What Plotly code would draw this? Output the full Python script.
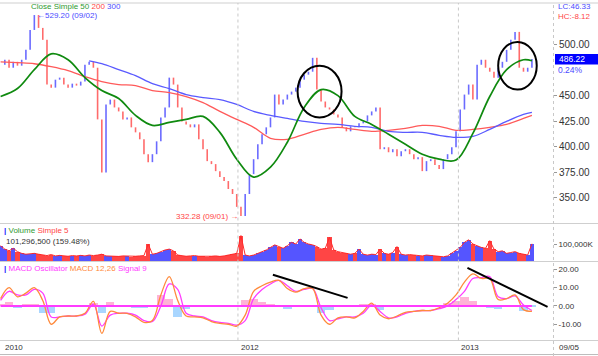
import plotly.graph_objects as go
import pandas as pd

W, H = 598, 356

# ---------------- data ----------------
dates = pd.date_range("2010-12-03", periods=127, freq="7D")

close = [480.5, 485.4, 477.6, 483.4, 479.6, 485.4, 495.1, 514.6, 529.2, 516.6,
         504.9, 461.1, 458.1, 465.9, 467.9, 461.1, 458.1, 462.0, 460.1, 464.0,
         480.5, 483.4, 477.6, 427.0, 375.0, 441.6, 446.4, 438.7, 434.8, 427.0,
         428.9, 419.2, 414.3, 407.5, 392.9, 385.1, 392.9, 405.5, 428.9, 438.7,
         467.9, 461.1, 438.7, 425.0, 422.1, 419.2, 422.1, 407.5, 397.8, 386.1,
         383.2, 376.3, 370.5, 366.6, 358.8, 353.9, 341.3, 332.3, 353.9, 373.4,
         388.0, 402.6, 412.4, 419.2, 428.9, 451.3, 441.6, 446.4, 451.3, 454.2,
         458.1, 465.9, 470.8, 473.7, 487.3, 456.2, 444.5, 438.7, 436.7, 431.8,
         428.9, 419.2, 415.3, 420.2, 419.2, 423.1, 425.0, 430.9, 434.8, 438.7,
         397.8, 399.7, 394.8, 397.8, 390.9, 395.8, 397.8, 392.9, 388.0, 390.0,
         376.3, 386.1, 388.0, 382.2, 378.3, 388.0, 392.9, 399.7, 415.3, 436.7,
         451.3, 461.1, 446.4, 480.5, 485.4, 477.6, 473.7, 467.9, 477.6, 483.4,
         495.1, 504.9, 512.7, 477.6, 473.7, 477.6, 486.2]

ma_idx = list(range(0, 125, 4)) + [126]
ma50 = [449.4, 457.2, 475.7, 491.2, 485.4, 467.9, 455.2, 447.4, 430.9, 421.1,
        424.1, 427.0, 429.9, 414.3, 388.0, 370.5, 380.2, 404.6, 438.7, 456.2,
        450.3, 429.9, 422.1, 412.4, 402.6, 392.9, 388.0, 387.1, 413.3, 449.4,
        475.7, 485.4, 484.4]
ma200 = [483.4, 482.5, 481.5, 478.6, 474.7, 468.8, 464.0, 461.1, 460.1, 455.2,
         453.3, 449.4, 443.5, 434.8, 427.0, 419.2, 408.5, 407.5, 412.4, 417.2,
         419.2, 417.2, 415.3, 416.3, 418.2, 421.1, 420.2, 416.3, 417.2, 419.2,
         422.1, 427.9, 430.9]
ma300_idx = [21] + list(range(24, 125, 4)) + [126]
ma300 = [484.4, 481.5, 475.7, 469.8, 462.0, 457.2, 451.3, 448.4, 446.4, 441.6,
         434.8, 430.9, 427.9, 425.0, 423.1, 422.1, 420.2, 419.2, 415.3, 414.3,
         414.3, 411.4, 409.4, 410.4, 417.2, 425.0, 431.8, 433.8]

volume_m = [90, 70, 60, 75, 55, 45, 40, 42, 45, 40,
            35, 32, 38, 30, 33, 30, 28, 32, 30, 33, 30, 35, 32,
            35, 40, 30, 28, 30, 27, 30, 28, 26, 28, 30, 32,
            100, 40, 45, 55, 65, 70, 60,
            35, 30, 28, 30, 32, 28, 27, 25, 28, 30, 27, 30, 35, 40,
            45, 150, 35, 30, 35, 45, 55, 65, 80,
            95, 85, 75, 90, 110, 100, 130, 110, 100, 95, 85, 70, 75, 140,
            65, 55, 50, 45, 40, 45, 70, 40, 35, 40,
            38, 70, 45, 40, 50, 85,
            40, 35, 38, 35, 32, 30, 35, 33, 30, 28, 25, 30,
            45, 60, 80, 110, 125, 100, 90, 80, 75, 120, 70,
            55, 60, 45, 50, 55, 45, 40, 35, 101.3]

macd_idx = list(range(0, 127, 2))
macd = [4, 10, 5, 7, 10, 3, -10, -6, -5.5, -5.5, -4, 2.5, -15, -3, -4, -4,
        -6, -9, -8, 6, 16, 3, -5.5, -6, -6.5, -8.5, -9.5, -10, -11, -5, 8, 11,
        13, 14, 9.5, 7.5, 9.5, 9.5, -5, -10, -6.5, -6, -6.5, -3, 1.5, -5, -7, -5.5,
        -3.5, -3, -2.5, -2.5, -1, 1.5, 6, 13, 17.5, 15, 15, 3.5, 4, 6, -2, -3]
signal = [3, 8, 6, 6, 9, 7, -6, -6, -5.5, -5.5, -4.5, 1, -11, -5, -4, -4,
          -5, -8, -8.5, 0, 12, 9, -4, -5.5, -6, -8, -9, -9.5, -10.5, -8, 4, 9,
          12, 14, 11, 8, 9, 9.5, -1, -8, -7, -6, -6, -4, 0.5, -3, -6.5, -6,
          -4, -3, -2.5, -2.5, -1.5, 0, 3.5, 8, 15, 15.5, 16, 5, 4, 5.5, 0.5, -2.5]

price_ticks = [350, 375, 400, 425, 450, 500]
macd_ticks = [-10, 0, 10, 20]

# annotation geometry (drawn lines / circles)
trend_lines = [("2012-02-28", 17, "2012-07-01", 4.4), ("2013-01-16", 20.8, "2013-05-29", -0.5)]
circles = [("2012-04-09", 428.9, "2012-06-21", 479.6), ("2013-03-08", 456.2, "2013-05-11", 502.9)]

# ---------------- derived ----------------
opens = [close[0]] + close[:-1]
highs = [max(o, c) for o, c in zip(opens, close)]
lows = [min(o, c) for o, c in zip(opens, close)]
vol_colors = ["#5555ff" if c >= o else "#ff4545" for o, c in zip(opens, close)]
mdates = [dates[i] for i in macd_idx]
hist = [m - s for m, s in zip(macd, signal)]
hist_colors = ["#ffb3d6" if h >= 0 else "#a9d6ff" for h in hist]

SMALL = "Liberation Sans, Arial, sans-serif"
REG = "Liberation Sans, Arial, sans-serif"
FS = 8

fig = go.Figure()
fig.add_trace(go.Ohlc(x=dates, open=opens, high=highs, low=lows, close=close,
                      increasing=dict(line=dict(color="#6b6bff", width=1.6)),
                      decreasing=dict(line=dict(color="#ff6b6b", width=1.6)),
                      tickwidth=0, showlegend=False, hoverinfo="skip",
                      xaxis="x", yaxis="y"))
fig.add_trace(go.Scatter(x=[dates[i] for i in ma_idx], y=ma200, mode="lines",
                         line=dict(color="#ff5a5a", width=1.3, shape="spline"), xaxis="x", yaxis="y"))
fig.add_trace(go.Scatter(x=[dates[i] for i in ma300_idx], y=ma300, mode="lines",
                         line=dict(color="#5a5aff", width=1.3, shape="spline"), xaxis="x", yaxis="y"))
fig.add_trace(go.Scatter(x=[dates[i] for i in ma_idx], y=ma50, mode="lines",
                         line=dict(color="#0f8a0f", width=1.7, shape="spline"), xaxis="x", yaxis="y"))

fig.add_trace(go.Bar(x=dates, y=volume_m, marker=dict(color=vol_colors, line=dict(width=0)),
                     xaxis="x2", yaxis="y2"))
fig.add_trace(go.Scatter(x=dates, y=volume_m, mode="lines",
                         line=dict(color="#ff2a2a", width=1), xaxis="x2", yaxis="y2"))

fig.add_trace(go.Bar(x=mdates, y=hist, marker=dict(color=hist_colors, line=dict(width=0)),
                     xaxis="x3", yaxis="y3"))
fig.add_trace(go.Scatter(x=mdates, y=signal, mode="lines",
                         line=dict(color="#ff3cff", width=1.3, shape="spline"), xaxis="x3", yaxis="y3"))
fig.add_trace(go.Scatter(x=mdates, y=macd, mode="lines",
                         line=dict(color="#ff8a3c", width=1.3, shape="spline"), xaxis="x3", yaxis="y3"))


def ppx(x):
    return x / W


def ppy(y):
    return 1 - y / H


XD = [0, ppx(553)]
xr = ["2010-12-02", "2013-06-07"]
axis_common = dict(showgrid=False, zeroline=False, showline=False)
fig.update_layout(
    width=W, height=H, margin=dict(l=0, r=0, t=0, b=0),
    paper_bgcolor="white", plot_bgcolor="white", showlegend=False, bargap=0,
    xaxis=dict(domain=XD, range=xr, anchor="y", visible=False, rangeslider=dict(visible=False)),
    xaxis2=dict(domain=XD, range=xr, anchor="y2", matches="x", visible=False),
    xaxis3=dict(domain=XD, range=xr, anchor="y3", matches="x", visible=False),
    yaxis=dict(domain=[ppy(223), ppy(3)], range=[325.5, 541], side="right", anchor="x",
               tickvals=price_ticks, ticktext=[f"{v:.2f}" for v in price_ticks],
               ticks="outside", ticklen=3, tickcolor="#999",
               tickfont=dict(family=REG, size=10, color="#333"), **axis_common),
    yaxis2=dict(domain=[ppy(261), ppy(224)], range=[0, 218], side="right", anchor="x2",
                tickvals=[100], ticktext=["100,000K"], ticks="outside", ticklen=3, tickcolor="#999",
                tickfont=dict(family=SMALL, size=FS, color="#333"), **axis_common),
    yaxis3=dict(domain=[ppy(340), ppy(262)], range=[-18.6, 24.0], side="right", anchor="x3",
                tickvals=macd_ticks, ticktext=[f"{v:.2f}" for v in macd_ticks],
                ticks="outside", ticklen=3, tickcolor="#999",
                tickfont=dict(family=SMALL, size=FS, color="#333"), **axis_common),
)

shapes = []
for yy, col in [(3, "#cfcfcf"), (223.5, "#cfcfcf"), (261.5, "#cfcfcf"), (340.5, "#cfcfcf"), (354.5, "#bdbdbd")]:
    shapes.append(dict(type="line", xref="paper", yref="paper", x0=0, x1=1, y0=ppy(yy), y1=ppy(yy),
                       line=dict(color=col, width=1)))
shapes.append(dict(type="line", xref="paper", yref="paper", x0=ppx(553.5), x1=ppx(553.5),
                   y0=ppy(356), y1=ppy(3), line=dict(color="#c8c8c8", width=1, dash="dot")))
for d in ["2012-01-01", "2013-01-01"]:
    shapes.append(dict(type="line", xref="x", yref="paper", x0=d, x1=d, y0=ppy(340.5), y1=ppy(3),
                       line=dict(color="#c8c8c8", width=1, dash="dot")))
shapes.append(dict(type="line", xref="x3", yref="y3", x0=dates[0], x1=dates[-1], y0=0, y1=0,
                   line=dict(color="#ff3cff", width=2)))
for x0, y0, x1, y1 in trend_lines:
    shapes.append(dict(type="line", xref="x3", yref="y3", x0=x0, y0=y0, x1=x1, y1=y1,
                       line=dict(color="black", width=2)))
for x0, y0, x1, y1 in circles:
    shapes.append(dict(type="circle", xref="x", yref="y", x0=x0, y0=y0, x1=x1, y1=y1,
                       line=dict(color="black", width=2)))
shapes.append(dict(type="rect", xref="paper", yref="paper", x0=ppx(555), x1=1, y0=ppy(64.5), y1=ppy(54),
                   fillcolor="#0000ff", line=dict(width=0)))
fig.update_layout(shapes=shapes)


def ann(x, y, text, color="#333", family=SMALL, size=FS, xanchor="left", **kw):
    return dict(x=ppx(x), y=ppy(y), xref="paper", yref="paper", text=text, showarrow=False,
                xanchor=xanchor, yanchor="middle", font=dict(family=family, size=size, color=color), **kw)


anns = [
    ann(29, 7, '<span style="color:#2f9a2f">Close Simple 50</span> '
               '<span style="color:#ff4545">200</span> <span style="color:#4a4aff">300</span>'),
    ann(556, 7, "LC:46.33", "#4a4aff"),
    ann(556, 17, "HC:-8.12", "#ff4545"),
    ann(557, 59, "486.22", "white", size=8.5),
    ann(556, 70, "0.24%", "#4a4aff", size=8.5),
    ann(2, 230, '<b><span style="color:#2020ff">|</span></b> <span style="color:#2f9a2f">Volume</span> '
                '<span style="color:#ff4545">Simple 5</span>'),
    ann(4, 241, "101,296,500 (159.48%)", "#333"),
    ann(2, 268, '<b><span style="color:#2020ff">|</span></b> <span style="color:#ff3cff">MACD Oscillator</span> '
                '<span style="color:#ff8a3c">MACD 12,26</span> <span style="color:#ff3cff">Signal 9</span>'),
    ann(3, 347, "2010"),
    ann(239, 347, "2012"),
    ann(459, 347, "2013"),
    ann(557, 347, "09/05"),
    dict(x=dates[8], y=529.2, xref="x", yref="y", text="←529.20 (09/02)", showarrow=False,
         xanchor="left", yanchor="middle", xshift=1,
         font=dict(family=SMALL, size=FS, color="#4a4aff")),
    dict(x=dates[57], y=332.3, xref="x", yref="y", text="332.28 (09/01) →", showarrow=False,
         xanchor="right", yanchor="middle", xshift=-1,
         font=dict(family=SMALL, size=FS, color="#ff4545")),
]
fig.update_layout(annotations=anns)

fig.write_html("out.html", config={"displayModeBar": False},
               post_script="document.body.style.margin='0';document.body.style.overflow='hidden';")
